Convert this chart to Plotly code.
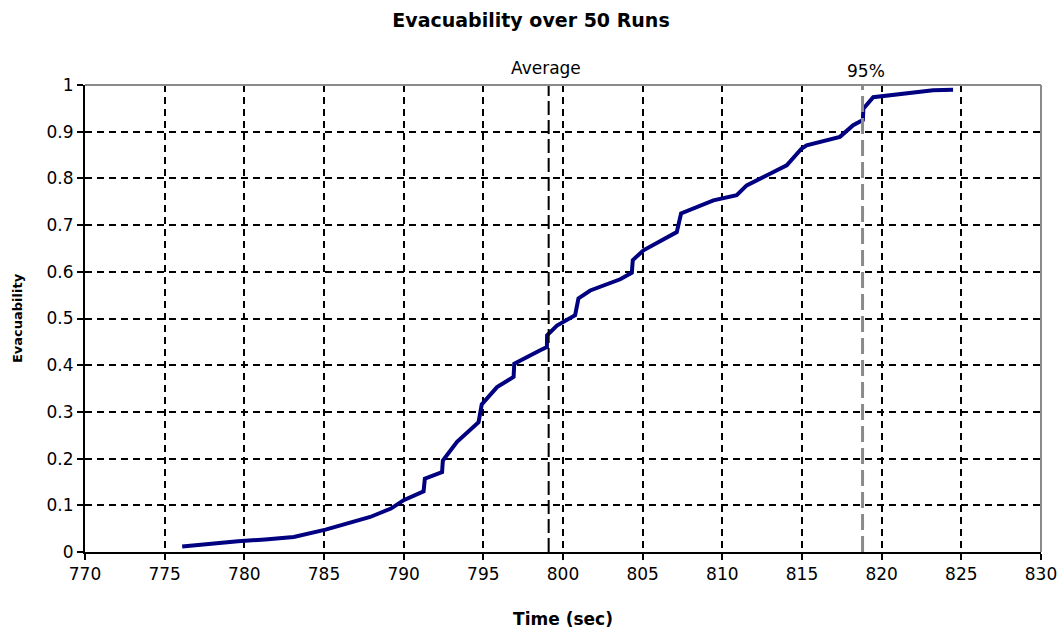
import plotly.graph_objects as go

# Sorted completion times of the runs (s) and the evacuability curve value at each
time_s = [
    776.1, 777.8, 779.6, 781.3, 783.1, 785.1, 786.7, 787.9, 789.2, 790.0,
    791.25, 791.33, 792.41, 792.46, 793.35, 794.7, 794.9, 795.86, 796.9, 796.94,
    798.57, 798.99, 799.0, 799.62, 800.76, 800.97, 801.71, 803.59, 804.32, 804.38,
    805.05, 807.14, 807.41, 808.18, 809.44, 810.9, 811.53, 812.99, 814.04, 814.98,
    815.29, 817.38, 818.21, 818.82, 818.85, 819.47, 820.72, 821.98, 823.23, 824.48,
]
evacuability = [
    0.012, 0.018, 0.023, 0.027, 0.032, 0.048, 0.064, 0.075, 0.093, 0.111,
    0.130, 0.157, 0.171, 0.196, 0.236, 0.278, 0.316, 0.353, 0.375, 0.403,
    0.432, 0.439, 0.464, 0.485, 0.507, 0.543, 0.560, 0.584, 0.598, 0.625,
    0.646, 0.685, 0.725, 0.735, 0.753, 0.764, 0.785, 0.810, 0.828, 0.864,
    0.871, 0.889, 0.914, 0.925, 0.949, 0.974, 0.979, 0.984, 0.989, 0.990,
]

average_time = 799.1
pct95_time = 818.8

x_ticks = list(range(770, 835, 5))
y_ticks = [round(i * 0.1, 1) for i in range(11)]

text_font = "DejaVu Sans, Arial, sans-serif"

fig = go.Figure()

fig.add_trace(go.Scatter(
    x=time_s, y=evacuability, mode="lines",
    line=dict(color="#000080", width=4),
    showlegend=False, hoverinfo="x+y",
))

# Average and 95th percentile markers
fig.add_shape(type="line", xref="x", yref="y",
              x0=average_time, x1=average_time, y0=0, y1=1,
              line=dict(color="black", width=2, dash="14px,5px"))
fig.add_shape(type="line", xref="x", yref="y",
              x0=pct95_time, x1=pct95_time, y0=0, y1=1,
              line=dict(color="#8a8a8a", width=3, dash="16px,6px"))

# Gray frame on the top and right of the plot area
fig.add_shape(type="line", xref="x domain", yref="y domain",
              x0=0, x1=1, y0=1, y1=1, line=dict(color="#8a8a8a", width=2))
fig.add_shape(type="line", xref="x domain", yref="y domain",
              x0=1, x1=1, y0=0, y1=1, line=dict(color="#8a8a8a", width=2))

fig.add_annotation(text="Average", xref="x", yref="y domain",
                   x=average_time, y=1.036, xshift=-3,
                   xanchor="center", yanchor="middle", showarrow=False,
                   font=dict(family=text_font, size=17, color="black"))
fig.add_annotation(text="95%", xref="x", yref="y domain",
                   x=pct95_time, y=1.031, xshift=3,
                   xanchor="center", yanchor="middle", showarrow=False,
                   font=dict(family=text_font, size=17, color="black"))

fig.update_layout(
    width=1062, height=631,
    margin=dict(l=85, r=21, t=85, b=79),
    paper_bgcolor="white", plot_bgcolor="white",
    font=dict(family=text_font, size=17, color="black"),
    title=dict(text="<b>Evacuability over 50 Runs</b>",
               x=0.5, xref="container", xanchor="center",
               y=1 - 20 / 631, yref="container", yanchor="middle",
               font=dict(family=text_font, size=19, color="black")),
)

fig.update_xaxes(
    range=[770, 830], tickmode="array", tickvals=x_ticks,
    ticktext=[str(v) for v in x_ticks],
    showline=True, linecolor="black", linewidth=2,
    ticks="outside", ticklen=6, tickwidth=2, tickcolor="black",
    showgrid=True, gridcolor="black", gridwidth=2, griddash="7px,5px",
    zeroline=False, automargin=False,
    title=dict(text="<b>Time (sec)</b>", standoff=30,
               font=dict(family=text_font, size=17, color="black")),
)
fig.update_yaxes(
    range=[0, 1], tickmode="array", tickvals=y_ticks,
    ticktext=[f"{v:g}" for v in y_ticks],
    showline=True, linecolor="black", linewidth=2,
    ticks="outside", ticklen=6, tickwidth=2, tickcolor="black",
    showgrid=True, gridcolor="black", gridwidth=2, griddash="7px,5px",
    zeroline=False, automargin=False,
    title=dict(text="<b>Evacuability</b>", standoff=21,
               font=dict(family=text_font, size=13, color="black")),
)

fig.write_html("out.html")
